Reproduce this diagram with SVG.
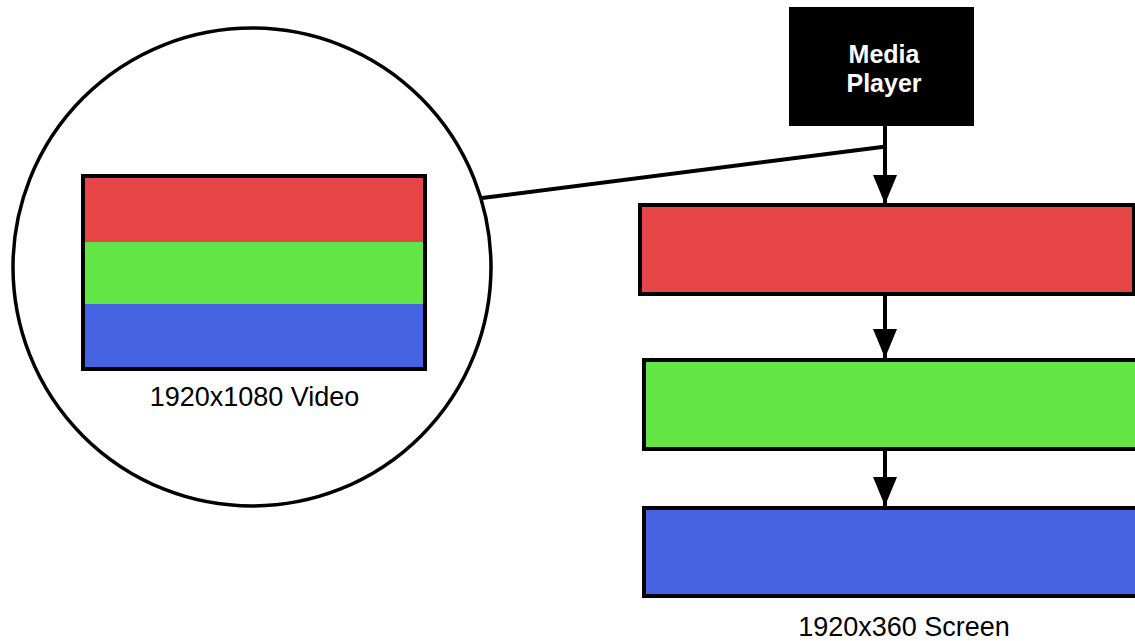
<svg xmlns="http://www.w3.org/2000/svg" width="1135" height="641" viewBox="0 0 1135 641">
<defs>
<style>
.lbl{font-family:"Liberation Sans",Arial,sans-serif;font-size:27px;fill:#000;text-anchor:middle}
.title{font-family:"Liberation Sans",Arial,sans-serif;font-size:25px;font-weight:bold;fill:#fff;text-anchor:middle}
.box{stroke:#000;stroke-width:4}
.red{fill:#e64545}
.green{fill:#62e645}
.blue{fill:#4664e1}
.conn{stroke:#000;stroke-width:4;fill:none}
</style>
<marker id="arr" viewBox="0 0 29 24" refX="29" refY="12" markerWidth="29" markerHeight="24" markerUnits="userSpaceOnUse" orient="auto">
<path d="M0,0 L29,12 L0,24 Z" fill="#000"/>
</marker>
</defs>
<rect width="1135" height="641" fill="#fff"/>
<g id="video">
<circle cx="252" cy="267" r="239" fill="#fff" stroke="#000" stroke-width="3.5"/>
<rect class="red" x="83" y="176" width="342" height="66"/>
<rect class="green" x="83" y="242" width="342" height="62"/>
<rect class="blue" x="83" y="304" width="342" height="65"/>
<rect x="83" y="176" width="342" height="193" fill="none" stroke="#000" stroke-width="4"/>
<text class="lbl" x="254.5" y="406">1920x1080 Video</text>
</g>
<g id="media-player">
<rect x="789" y="7" width="185" height="119" fill="#000"/>
<text class="title" x="884" y="63">Media</text>
<text class="title" x="884" y="92">Player</text>
</g>
<g id="screen-red">
<rect class="red box" x="640" y="205" width="494" height="89"/>
</g>
<g id="screen-green">
<rect class="green box" x="644" y="360" width="500" height="89"/>
</g>
<g id="screen-blue">
<rect class="blue box" x="644" y="508" width="500" height="88"/>
</g>
<text class="lbl" x="904" y="636">1920x360 Screen</text>
<g id="connectors">
<line class="conn" x1="885" y1="126" x2="885" y2="204" marker-end="url(#arr)"/>
<line class="conn" x1="886" y1="146.5" x2="482" y2="198"/>
<line class="conn" x1="885" y1="296" x2="885" y2="358" marker-end="url(#arr)"/>
<line class="conn" x1="885" y1="451" x2="885" y2="506" marker-end="url(#arr)"/>
</g>
</svg>
